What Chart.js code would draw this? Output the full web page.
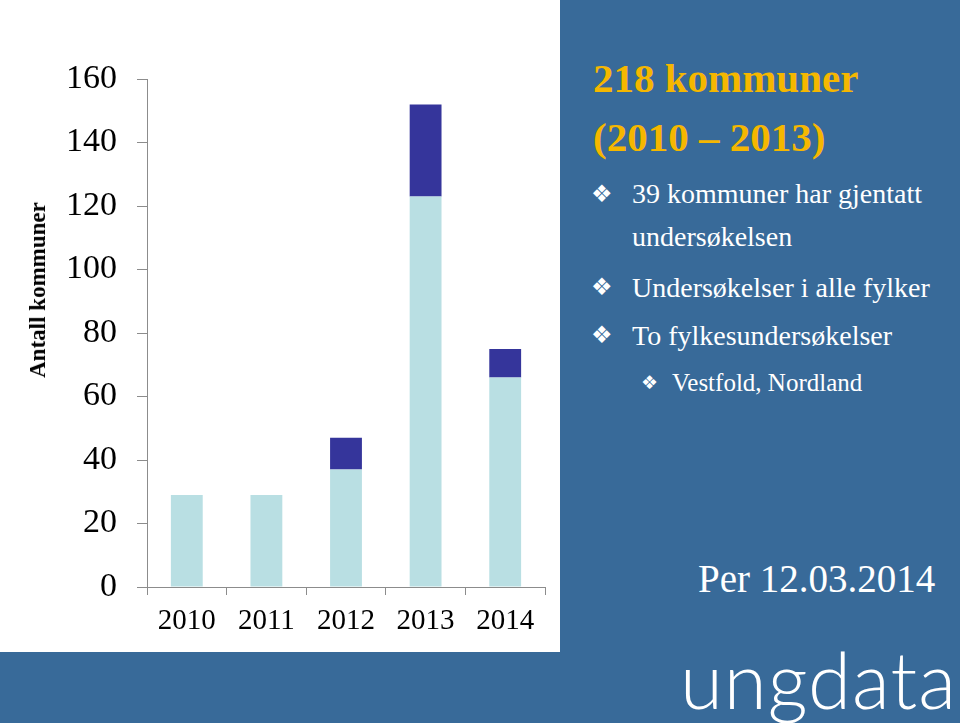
<!DOCTYPE html>
<html>
<head>
<meta charset="utf-8">
<script src="https://cdn.jsdelivr.net/npm/chart.js@4"></script>
<style>
  body { margin: 0; width: 960px; height: 723px; background: #386a99; position: relative; overflow: hidden; font-family: 'Liberation Serif', serif; }
  #panel { position: absolute; left: 0; top: 0; width: 560px; height: 652px; background: #fff; }
  #ytitle { position: absolute; left: 38px; top: 290px; transform: translate(-50%, -50%) rotate(-90deg); font-weight: bold; font-size: 23px; white-space: nowrap; color: #000; }
  .t { position: absolute; color: #fff; white-space: nowrap; }
  .h { color: #f5b700; font-weight: bold; font-size: 41px; left: 593px; }
  .b { font-size: 28px; }
  .bul { position: absolute; font-family: 'DejaVu Sans', sans-serif; color: #fff; font-size: 24px; }
  #logo { position: absolute; left: 680px; top: 632px; font-family: 'Lato', 'Open Sans', sans-serif; font-weight: 300; font-size: 78px; color: #fff; letter-spacing: 1px; }
</style>
</head>
<body>
<div id="panel"><canvas id="myChart" width="560" height="652"></canvas></div>
<div id="ytitle">Antall kommuner</div>

<div class="t h" style="top:54px">218 kommuner</div>
<div class="t h" style="top:113px">(2010 – 2013)</div>

<div class="bul" style="left:591px;top:180px">❖</div>
<div class="t b" style="left:632px;top:178px">39 kommuner har gjentatt</div>
<div class="t b" style="left:632px;top:221px">undersøkelsen</div>
<div class="bul" style="left:591px;top:273px">❖</div>
<div class="t b" style="left:632px;top:272px">Undersøkelser i alle fylker</div>
<div class="bul" style="left:591px;top:321px">❖</div>
<div class="t b" style="left:632px;top:320px">To fylkesundersøkelser</div>
<div class="bul" style="left:641px;top:371px;font-size:19px">❖</div>
<div class="t" style="left:672px;top:369px;font-size:25px">Vestfold, Nordland</div>

<div class="t" style="left:698px;top:556px;font-size:39px">Per 12.03.2014</div>
<div id="logo">ungdata</div>

<script>
'use strict';

const years = ['2010', '2011', '2012', '2013', '2014'];
const firstTime = [29, 29, 37, 123, 66];
const repeated = [0, 0, 10, 29, 9];
const yTicks = [0, 20, 40, 60, 80, 100, 120, 140, 160];

const axisColor = '#8c8c8c';

const data = {
    labels: years,
    datasets: [{
        label: 'Første gang',
        data: firstTime,
        backgroundColor: '#b9dfe3'
    }, {
        label: 'Gjentatt',
        data: repeated,
        backgroundColor: '#35359b'
    }]
};

const config = {
    type: 'bar',
    data: data,
    options: {
        animation: false,
        responsive: false,
        layout: {
            padding: { top: 79, right: 15, left: 0, bottom: 0 }
        },
        datasets: {
            bar: {
                barPercentage: 0.4,
                categoryPercentage: 1
            }
        },
        plugins: {
            legend: { display: false },
            tooltip: { enabled: false }
        },
        scales: {
            x: {
                stacked: true,
                afterFit: (scale) => { scale.height = 65; },
                border: { color: axisColor, width: 1 },
                grid: {
                    offset: true,
                    drawOnChartArea: false,
                    drawTicks: true,
                    tickLength: 8,
                    color: axisColor
                },
                ticks: {
                    color: '#000',
                    padding: 9,
                    font: { family: 'Liberation Serif', size: 29 }
                }
            },
            y: {
                stacked: true,
                min: 0,
                max: 160,
                afterFit: (scale) => { scale.width = 147; },
                afterBuildTicks: (scale) => {
                    scale.ticks = yTicks.map(v => ({ value: v }));
                },
                border: { color: axisColor, width: 1 },
                grid: {
                    drawOnChartArea: false,
                    drawTicks: true,
                    tickLength: 10,
                    color: axisColor
                },
                ticks: {
                    color: '#000',
                    padding: 20,
                    font: { family: 'Liberation Serif', size: 34 }
                }
            }
        }
    }
};

let myChart = new Chart(
    document.getElementById('myChart'),
    config
);
</script>
</body>
</html>
